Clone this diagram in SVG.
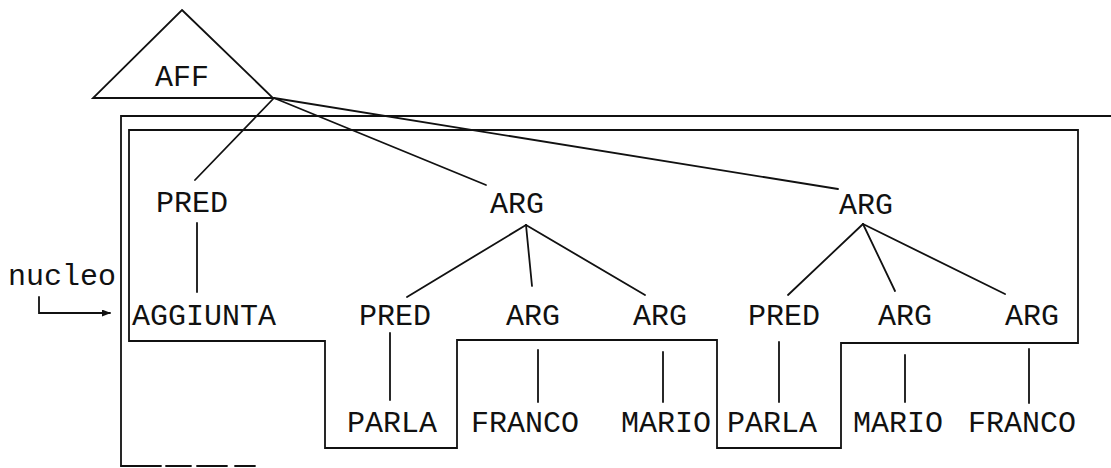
<svg xmlns="http://www.w3.org/2000/svg" width="1111" height="468" viewBox="0 0 1111 468">
<style>
.t{font-family:"Liberation Mono","DejaVu Sans Mono",monospace;font-size:30px;fill:#111;text-anchor:middle}
.ln{stroke:#111;stroke-width:1.8;fill:none;stroke-linecap:round;stroke-linejoin:miter}
</style>
<defs>
<marker id="ah" viewBox="0 0 10 10" refX="9" refY="5" markerWidth="9" markerHeight="7" markerUnits="userSpaceOnUse" orient="auto" preserveAspectRatio="none">
<path d="M0,0 L10,5 L0,10 Z" fill="#111"/>
</marker>
</defs>
<rect width="1111" height="468" fill="#fff"/>
<g id="frames">
<path class="ln" d="M1111,116 H121 V466"/>
<path class="ln" d="M121,466 H290" stroke-dasharray="40 5 25 6 30 8 20"/>
<path class="ln" d="M129,130 H1078 V343 H841 V448 H717 V340 H457 V448 H325 V341 H129 Z"/>
</g>
<g id="connectors">
<line class="ln" x1="274" y1="98" x2="195" y2="180"/>
<line class="ln" x1="274" y1="98" x2="486" y2="185"/>
<line class="ln" x1="274" y1="98" x2="838" y2="189"/>
<line class="ln" x1="197" y1="223" x2="197" y2="292"/>
<line class="ln" x1="526" y1="225" x2="407" y2="297"/>
<line class="ln" x1="526" y1="225" x2="532" y2="286"/>
<line class="ln" x1="526" y1="225" x2="645" y2="295"/>
<line class="ln" x1="863" y1="224" x2="788" y2="295"/>
<line class="ln" x1="863" y1="224" x2="895" y2="291"/>
<line class="ln" x1="863" y1="224" x2="1005" y2="294"/>
<line class="ln" x1="390" y1="333" x2="390" y2="400"/>
<line class="ln" x1="538" y1="350" x2="538" y2="402"/>
<line class="ln" x1="663" y1="352" x2="663" y2="402"/>
<line class="ln" x1="779" y1="342" x2="779" y2="402"/>
<line class="ln" x1="905" y1="355" x2="905" y2="402"/>
<line class="ln" x1="1029" y1="349" x2="1029" y2="403"/>
<path class="ln" d="M39,297 V313 H110" marker-end="url(#ah)"/>
</g>
<g id="aff">
<path class="ln" d="M182,10 L273,98 H93 Z"/>
<text class="t" x="182" y="86">AFF</text>
</g>
<g id="pred1"><text class="t" x="192" y="212">PRED</text></g>
<g id="arg1"><text class="t" x="517" y="213">ARG</text></g>
<g id="arg2"><text class="t" x="866" y="214">ARG</text></g>
<g id="nucleo"><text class="t" x="62" y="285">nucleo</text></g>
<g id="aggiunta"><text class="t" x="204" y="325">AGGIUNTA</text></g>
<g id="pred2"><text class="t" x="395" y="325">PRED</text></g>
<g id="arg3"><text class="t" x="533" y="325">ARG</text></g>
<g id="arg4"><text class="t" x="660" y="325">ARG</text></g>
<g id="pred3"><text class="t" x="784" y="325">PRED</text></g>
<g id="arg5"><text class="t" x="905" y="325">ARG</text></g>
<g id="arg6"><text class="t" x="1032" y="325">ARG</text></g>
<g id="parla1"><text class="t" x="392" y="432">PARLA</text></g>
<g id="franco1"><text class="t" x="525" y="432">FRANCO</text></g>
<g id="mario1"><text class="t" x="666" y="432">MARIO</text></g>
<g id="parla2"><text class="t" x="772" y="432">PARLA</text></g>
<g id="mario2"><text class="t" x="898" y="432">MARIO</text></g>
<g id="franco2"><text class="t" x="1022" y="432">FRANCO</text></g>
</svg>
